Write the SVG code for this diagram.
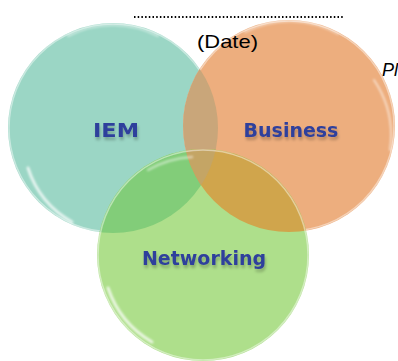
<svg xmlns="http://www.w3.org/2000/svg" width="398" height="361" viewBox="0 0 398 361">
<style>
.lbl{font-family:"DejaVu Sans","Liberation Sans",sans-serif;font-weight:bold;font-size:19px;fill:#2F3F9C;text-anchor:middle}
.hl{fill:none;stroke:#ffffff;stroke-linecap:round;filter:url(#soft)}
.rim{fill:none;stroke:#ffffff;stroke-opacity:0.45;stroke-width:1.5}
.hd{font-family:"Liberation Sans","DejaVu Sans",sans-serif;fill:#000}
</style>
<defs>
<clipPath id="cT"><circle cx="113" cy="128" r="105"/></clipPath>
<clipPath id="cO"><circle cx="289" cy="126" r="106"/></clipPath>
<clipPath id="cG"><circle cx="203" cy="255" r="106"/></clipPath>
<filter id="soft" x="-20%" y="-20%" width="140%" height="140%">
<feGaussianBlur stdDeviation="0.9"/>
</filter>
<filter id="sh" x="-20%" y="-40%" width="140%" height="180%">
<feGaussianBlur in="SourceAlpha" stdDeviation="1.6"/>
<feOffset dx="1" dy="3" result="b"/>
<feComponentTransfer><feFuncA type="linear" slope="0.25"/></feComponentTransfer>
<feMerge><feMergeNode/><feMergeNode in="SourceGraphic"/></feMerge>
</filter>
</defs>
<rect width="398" height="361" fill="#ffffff"/>
<g id="IEM">
<circle cx="113" cy="128" r="105" fill="#9BD6C5"/>
<circle cx="113" cy="128" r="104" class="rim"/>
<path class="hl" d="M28 168 A95 95 0 0 0 72 222" stroke-width="3" stroke-opacity="0.75"/>
<path class="hl" d="M68 36 A98 98 0 0 1 158 36" stroke-width="2" stroke-opacity="0.45"/>
</g>
<g id="Business">
<circle cx="289" cy="126" r="106" fill="#EDAE7E"/>
<circle cx="289" cy="126" r="105" class="rim"/>
<g clip-path="url(#cT)"><circle cx="289" cy="126" r="106" fill="#C9A67A"/></g>
<path class="hl" d="M192 162 A100 100 0 0 0 238 220" stroke-width="3" stroke-opacity="0.75"/>
<path class="hl" d="M245 32 A98 98 0 0 1 338 34" stroke-width="2" stroke-opacity="0.45"/>
<path class="hl" d="M374 80 A100 100 0 0 1 390 150" stroke-width="2" stroke-opacity="0.55"/>
</g>
<g id="Networking">
<circle cx="203" cy="255" r="106" fill="#AEDF8B"/>
<g clip-path="url(#cT)"><circle cx="203" cy="255" r="106" fill="#82CD79"/></g>
<g clip-path="url(#cO)"><circle cx="203" cy="255" r="106" fill="#D0A54C"/></g>
<g clip-path="url(#cT)"><g clip-path="url(#cO)"><circle cx="203" cy="255" r="106" fill="#C4A565"/></g></g>
<circle cx="203" cy="255" r="105" class="rim"/>
<path class="hl" d="M108 288 A100 100 0 0 0 152 342" stroke-width="3" stroke-opacity="0.75"/>
<path class="hl" d="M148 170 A100 100 0 0 1 192 157" stroke-width="2.5" stroke-opacity="0.45"/>
</g>
<g id="labels" filter="url(#sh)">
<text class="lbl" x="116" y="137" textLength="46" lengthAdjust="spacingAndGlyphs">IEM</text>
<text class="lbl" x="291" y="137">Business</text>
<text class="lbl" x="204" y="265">Networking</text>
</g>
<g id="header">
<line x1="134" y1="17" x2="343" y2="17" stroke="#000" stroke-width="2" stroke-dasharray="1.5 2.2"/>
<text class="hd" x="197" y="48" font-size="19" textLength="61" lengthAdjust="spacingAndGlyphs">(Date)</text>
<text class="hd" x="382" y="76" font-size="18" font-style="italic">Pl</text>
</g>
<g id="connectors"/>
</svg>
